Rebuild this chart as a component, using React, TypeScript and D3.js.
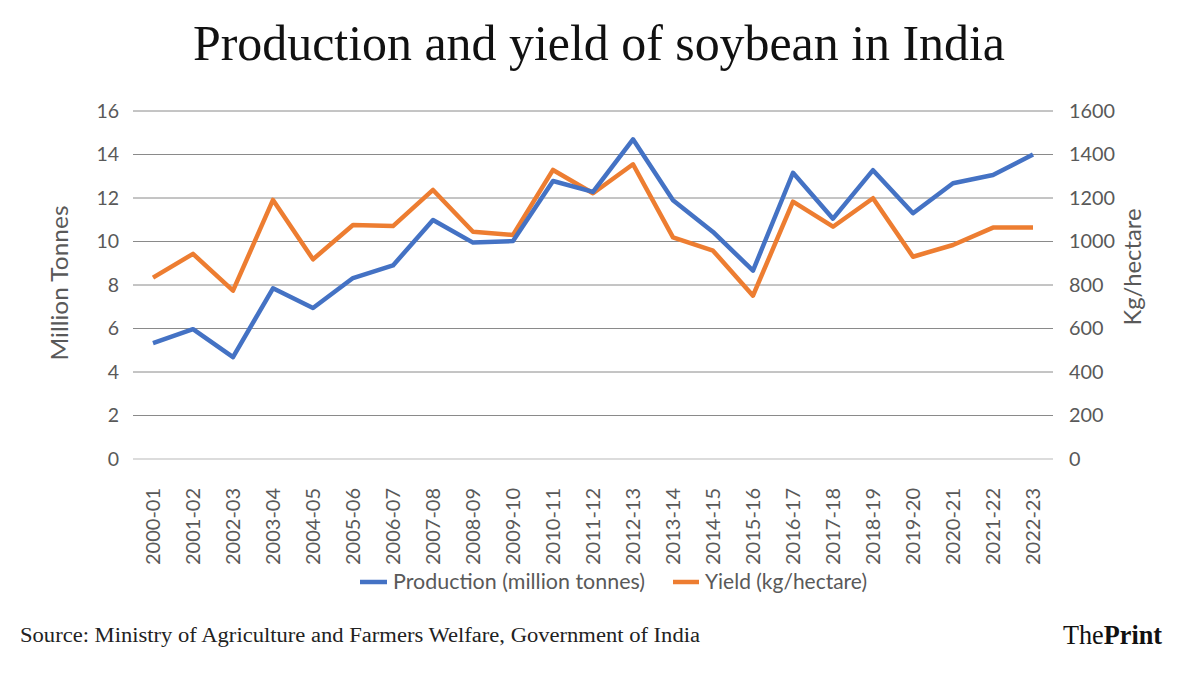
import React from "react";
import * as d3 from "d3";

const categories = ["2000-01","2001-02","2002-03","2003-04","2004-05","2005-06","2006-07","2007-08","2008-09","2009-10","2010-11","2011-12","2012-13","2013-14","2014-15","2015-16","2016-17","2017-18","2018-19","2019-20","2020-21","2021-22","2022-23"];
const production = [5.33,5.97,4.68,7.85,6.94,8.32,8.9,10.99,9.95,10.02,12.78,12.28,14.7,11.9,10.44,8.66,13.16,11.05,13.28,11.3,12.68,13.06,14.0];
const yieldVals = [834,943,774,1191,918,1076,1071,1237,1045,1030,1329,1222,1355,1019,958,751,1183,1068,1199,930,984,1064,1064];
const leftTicks = [0,2,4,6,8,10,12,14,16];
const rightTicks = [0,200,400,600,800,1000,1200,1400,1600];

const W = 1200, H = 675;
const plot = { left: 133, right: 1053, top: 111, bottom: 459 };
const sans = "Lato, 'Open Sans', sans-serif";
const serif = "'Liberation Serif', 'DejaVu Serif', serif";

export default function App() {
  const x = d3.scaleBand().domain(categories).range([plot.left, plot.right]);
  const yL = d3.scaleLinear().domain([0, 16]).range([plot.bottom, plot.top]);
  const yR = d3.scaleLinear().domain([0, 1600]).range([plot.bottom, plot.top]);
  const cx = (c: string) => (x(c) as number) + x.bandwidth() / 2;
  const lineL = d3.line<number>().x((_, i) => cx(categories[i])).y((d) => yL(d));
  const lineR = d3.line<number>().x((_, i) => cx(categories[i])).y((d) => yR(d));

  return (
    <svg width={W} height={H} style={{ position: "absolute", left: 0, top: 0, background: "#fff" }}>
      <rect width={W} height={H} fill="#fff" />
      <text x={599} y={60} textAnchor="middle" fontFamily={serif} fontSize={50} fill="#111" textLength={812} lengthAdjust="spacingAndGlyphs">
        Production and yield of soybean in India
      </text>
      {leftTicks.map((t) => (
        <line key={"g" + t} x1={plot.left} x2={plot.right} y1={yL(t)} y2={yL(t)} stroke={t === 0 ? "#d0d0d0" : "#8a8a8a"} strokeWidth={t === 0 ? 1.5 : 1} />
      ))}
      {leftTicks.map((t) => (
        <text key={"l" + t} x={119} y={yL(t)} dy="0.35em" textAnchor="end" fontFamily={sans} fontSize={19.5} fill="#595959">{t}</text>
      ))}
      {rightTicks.map((t) => (
        <text key={"r" + t} x={1069} y={yR(t)} dy="0.35em" textAnchor="start" fontFamily={sans} fontSize={19.5} fill="#595959" textLength={String(t).length * 11.5} lengthAdjust="spacingAndGlyphs">{t}</text>
      ))}
      <text transform={`translate(68,283) rotate(-90)`} textAnchor="middle" fontFamily={sans} fontSize={23} fill="#595959" textLength={155} lengthAdjust="spacingAndGlyphs">Million Tonnes</text>
      <text transform={`translate(1141,267) rotate(-90)`} textAnchor="middle" fontFamily={sans} fontSize={23} fill="#595959" textLength={117} lengthAdjust="spacingAndGlyphs">Kg/hectare</text>
      {categories.map((c) => (
        <text key={c} transform={`translate(${cx(c) + 7},488) rotate(-90)`} textAnchor="end" fontFamily={sans} fontSize={19.5} fill="#595959" textLength={77} lengthAdjust="spacingAndGlyphs">{c}</text>
      ))}
      <path d={lineR(yieldVals) || ""} fill="none" stroke="#ED7D31" strokeWidth={4.5} strokeLinejoin="round" />
      <path d={lineL(production) || ""} fill="none" stroke="#4472C4" strokeWidth={4.5} strokeLinejoin="round" />
      <line x1={360} x2={387} y1={582} y2={582} stroke="#4472C4" strokeWidth={4.5} />
      <text x={393} y={589} fontFamily={sans} fontSize={20.5} fill="#595959" textLength={252} lengthAdjust="spacingAndGlyphs">Production (million tonnes)</text>
      <line x1={673} x2={699} y1={582} y2={582} stroke="#ED7D31" strokeWidth={4.5} />
      <text x={705} y={589} fontFamily={sans} fontSize={20.5} fill="#595959" textLength={162} lengthAdjust="spacingAndGlyphs">Yield (kg/hectare)</text>
      <text x={20} y={642} fontFamily={serif} fontSize={20} fill="#222" textLength={680} lengthAdjust="spacingAndGlyphs">
        Source: Ministry of Agriculture and Farmers Welfare, Government of India
      </text>
      <text x={1063} y={644} fontFamily={serif} fontSize={27} fill="#111" textLength={99} lengthAdjust="spacingAndGlyphs">
        <tspan>The</tspan><tspan fontWeight="bold">Print</tspan>
      </text>
    </svg>
  );
}
